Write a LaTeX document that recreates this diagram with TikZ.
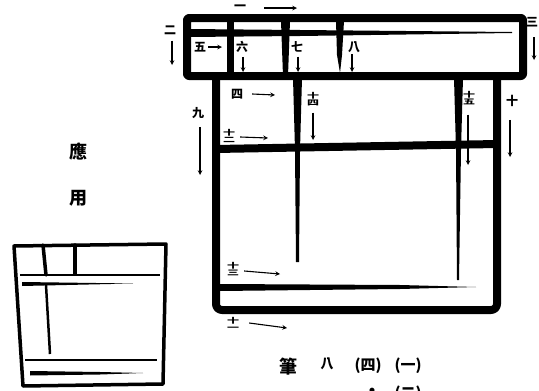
\documentclass[tikz,border=0pt]{standalone}
\usepackage{fontspec}
\usepackage{graphicx}
\usepackage{tikz}
\newfontfamily\cjk{Noto Sans CJK TC}

% stacked numbers such as 十一 written in one square
\newcommand{\stacknum}[2]{\begin{tabular}{@{}c@{}}\scalebox{1}[0.6]{#1}\\[-5pt]\scalebox{1}[0.6]{#2}\end{tabular}}

\tikzset{
  num/.style={font=\cjk\bfseries\fontsize{12}{12}\selectfont, inner sep=0pt},
  word/.style={font=\cjk\bfseries\fontsize{18}{18}\selectfont, inner sep=0pt},
  arr/.style={->, >=stealth, line width=1.1pt},
  brush/.style={line width=8pt, line cap=round, line join=round},
  pen/.style={line width=3.5pt, line cap=round, line join=round},
}

\begin{document}
\begin{tikzpicture}[x=1pt, y=-1pt]
    \useasboundingbox (0,0) rectangle (539,391);

    % the big character
    \draw[brush, rounded corners=2pt] (187,18) rectangle (523,76);
    \fill (187,29) -- (300,30) -- (512,32) -- (512,33) -- (300,36) -- (187,37) -- cycle;
    \draw[line width=7pt] (230,18) -- (230,76);
    \fill (281,21) -- (290,21) -- (288,76) -- (283,76) -- cycle;
    \fill (336,21) -- (344,21) -- (342,55) -- (340,73) -- (337,55) -- cycle;
    \draw[brush, rounded corners=6pt] (216,78) -- (216,310) -- (497,310) -- (497,78);
    \draw[line width=8pt] (216,149) -- (497,144);
    \fill (293,78) -- (302,78) -- (300,150) -- (299,262) -- (296,262) -- (295,150) -- cycle;
    \fill (454,78) -- (463,78) -- (461,150) -- (459,280) -- (457,280) -- (456,150) -- cycle;
    \fill (220,284) -- (400,285) -- (476,287) -- (400,289) -- (220,291) -- cycle;

    % stroke numbers
    \node[num] (n1) at (240,8) {一};
    \node[num] (n2) at (170,30) {二};
    \node[num] (n3) at (532,22) {三};
    \node[num] (n4) at (237,94) {四};
    \node[num] (n5) at (200,47) {五};
    \node[num] (n6) at (242,47) {六};
    \node[num] (n7) at (297,47) {七};
    \node[num] (n8) at (354,47) {八};
    \node[num] (n9) at (198,113) {九};
    \node[num] (n10) at (512,101) {十};
    \node[num] (n11) at (233,325) {\stacknum{十}{一}};
    \node[num] (n12) at (229,137) {\stacknum{十}{二}};
    \node[num] (n13) at (233,270) {\stacknum{十}{三}};
    \node[num] (n14) at (313,100) {\stacknum{十}{四}};
    \node[num] (n15) at (469,99) {\stacknum{十}{五}};

    \coordinate (a1) at (297,8);
    \coordinate (a2) at (172,65);
    \coordinate (a3) at (534,60);
    \coordinate (a4) at (275,95);
    \coordinate (a5) at (222,47);
    \coordinate (a6) at (243,72);
    \coordinate (a7) at (298,72);
    \coordinate (a8) at (352,72);
    \coordinate (a9) at (200,175);
    \coordinate (a10) at (510,157);
    \coordinate (a11) at (287,328);
    \coordinate (a12) at (268,138);
    \coordinate (a13) at (280,274);
    \coordinate (a14) at (313,140);
    \coordinate (a15) at (468,165);

    \draw[arr] ([xshift=18pt]n1.east) -- (a1);
    \draw[arr] ([xshift=2pt, yshift=-6pt]n2.south) -- (a2);
    \draw[arr] ([xshift=2pt, yshift=-10pt]n3.south) -- (a3);
    \draw[arr] ([xshift=9pt]n4.east) -- (a4);
    \draw[arr] ([xshift=2pt]n5.east) -- (a5);
    \draw[arr] ([xshift=1pt, yshift=-4pt]n6.south) -- (a6);
    \draw[arr] ([xshift=1pt, yshift=-4pt]n7.south) -- (a7);
    \draw[arr] ([xshift=-2pt, yshift=-1pt]n8.south) -- (a8);
    \draw[arr] ([xshift=2pt, yshift=-8pt]n9.south) -- (a9);
    \draw[arr] ([xshift=-2pt, yshift=-13pt]n10.south) -- (a10);
    \draw[arr] ([xshift=10pt, yshift=2pt]n11.east) -- (a11);
    \draw[arr] ([xshift=5pt]n12.east) -- (a12);
    \draw[arr] ([xshift=5pt, yshift=-1pt]n13.east) -- (a13);
    \draw[arr] ([yshift=-3pt]n14.south) -- (a14);
    \draw[arr] ([xshift=-1pt, yshift=-6pt]n15.south) -- (a15);

    % the small character and its caption
    \node[word] (ying) at (78,152) {應};
    \node[word] (yong) at (78,198) {用};
    \draw[pen] (14,246) -- (166,244) -- (163,384) -- (23,386) -- cycle;
    \draw[pen] (43,245) -- (46,275);
    \draw[pen] (75,245) -- (75,274);
    \draw[line width=2.5pt] (20,275) -- (160,275);
    \fill (22,282) -- (133,283.5) -- (22,286) -- cycle;
    \draw[line width=2.5pt] (46,285) -- (50,354);
    \draw[line width=2.5pt] (25,360) -- (157,360);
    \fill (30,371) -- (100,372) -- (143,373) -- (100,374.5) -- (30,375.5) -- cycle;

    % text under the big character
    \node[word] (bi) at (288,367) {筆};
    \node[num, font=\cjk\bfseries\fontsize{13}{13}\selectfont] (ba) at (327,364) {八};
    \node[word, font=\cjk\bfseries\fontsize{15}{15}\selectfont] (si) at (368,366) {(四)};
    \node[word, font=\cjk\bfseries\fontsize{15}{15}\selectfont] (yi) at (408,366) {(一)};
    \node[word] (dot) at (372,393) {·};
    \node[word, font=\cjk\bfseries\fontsize{15}{15}\selectfont] (er) at (408,394) {(二)};
\end{tikzpicture}
\end{document}
